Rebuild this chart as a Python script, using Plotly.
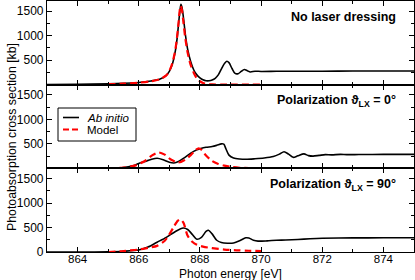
import plotly.graph_objects as go
from plotly.subplots import make_subplots

# ---- Data ----
top_ab_x = [863.0, 864.0, 865.0, 865.5, 866.0, 866.4, 866.7, 866.9, 867.0, 867.1, 867.2, 867.25, 867.3, 867.35, 867.38,
            867.42, 867.47, 867.53, 867.6, 867.7, 867.8, 867.9, 868.0, 868.1, 868.2, 868.3, 868.4, 868.5, 868.6, 868.7,
            868.8, 868.88, 868.95, 869.05, 869.15, 869.25, 869.35, 869.45, 869.55, 869.65, 869.8, 870.0, 870.5, 871.0,
            872.0, 873.0, 874.0, 875.0]
top_ab_y = [3, 8, 18, 28, 45, 75, 115, 190, 270, 420, 700, 920, 1230, 1530, 1640,
            1560, 1320, 1000, 720, 470, 300, 200, 140, 100, 80, 80, 95, 130, 200, 320,
            430, 480, 450, 330, 230, 225, 270, 310, 285, 260, 275, 270, 273, 275,
            275, 278, 278, 280]

top_md_x = [865.0, 865.5, 866.0, 866.4, 866.7, 866.9, 867.0, 867.1, 867.2, 867.25, 867.3, 867.34, 867.37, 867.41,
            867.46, 867.52, 867.6, 867.7, 867.8, 867.9, 868.0, 868.1, 868.2, 868.4, 868.7, 869.0, 870.0]
top_md_y = [10, 20, 40, 70, 115, 190, 280, 440, 730, 960, 1260, 1520, 1610, 1530,
            1280, 960, 650, 400, 240, 130, 70, 35, 15, 5, 2, 0, 0]

mid_ab_x = [863.0, 865.0, 865.5, 865.8, 866.0, 866.2, 866.4, 866.6, 866.8, 867.0, 867.15, 867.3, 867.5, 867.7, 867.9,
            868.0, 868.2, 868.4, 868.55, 868.7, 868.78, 868.85, 868.95, 869.1, 869.3, 869.5, 869.8, 870.1, 870.4,
            870.6, 870.75, 870.9, 871.05, 871.2, 871.4, 871.55, 871.7, 871.9, 872.1, 872.3, 872.6, 872.8, 873.2,
            874.0, 875.0]
mid_ab_y = [0, 5, 15, 50, 100, 140, 180, 205, 175, 125, 110, 140, 220, 310, 380,
            400, 430, 445, 470, 500, 495, 400, 270, 210, 190, 185, 195, 210, 240,
            290, 340, 290, 225, 255, 295, 260, 250, 265, 280, 275, 285, 280, 282,
            285, 285]

mid_md_x = [865.0, 865.5, 865.9, 866.2, 866.45, 866.65, 866.85, 867.05, 867.3, 867.5, 867.7, 867.85, 867.96, 868.05,
            868.2, 868.4, 868.6, 868.8, 869.0, 869.3, 869.6, 870.0]
mid_md_y = [0, 15, 60, 150, 270, 325, 280, 180, 120, 170, 270, 370, 410, 380,
            260, 150, 90, 55, 30, 12, 5, 0]

bot_ab_x = [863.0, 865.0, 865.5, 866.0, 866.3, 866.6, 866.9, 867.2, 867.45, 867.6, 867.75, 867.9, 868.05, 868.2,
            868.28, 868.4, 868.55, 868.7, 868.9, 869.1, 869.3, 869.5, 869.6, 869.75, 869.9, 870.2, 870.5, 870.8,
            871.2, 871.6, 872.0, 873.0, 874.0, 875.0]
bot_ab_y = [0, 5, 15, 40, 100, 200, 300, 420, 490, 460, 360, 260, 300, 420,
            445, 370, 240, 195, 180, 185, 230, 290, 285, 240, 222, 228, 240, 245,
            255, 270, 280, 288, 290, 292]

bot_md_x = [865.0, 865.5, 866.0, 866.3, 866.6, 866.85, 867.0, 867.15, 867.28, 867.36, 867.46, 867.6, 867.75, 867.9,
            868.1, 868.4, 868.8, 869.2, 869.6, 870.0]
bot_md_y = [0, 20, 50, 85, 125, 230, 360, 520, 640, 665, 600, 330, 210, 150,
            110, 80, 50, 35, 25, 18]

panel_titles = ["No laser dressing",
                "Polarization ϑ<sub>LX</sub> = 0°",
                "Polarization ϑ<sub>LX</sub> = 90°"]
legend_labels = ["<i>Ab initio</i>", "Model"]
x_ticks = [864, 866, 868, 870, 872, 874]
y_ticks_upper = [500, 1000, 1500]
y_ticks_bottom = [0, 500, 1000, 1500]

FONT = "Liberation Sans, Arial, Helvetica, sans-serif"
W, H = 415, 280
ML, MR, MT, MB = 47, 1, 1, 28
PW, PH = W - ML - MR, H - MT - MB


def px2paper(px, py):
    return (px - ML) / PW, (H - MB - py) / PH


fig = make_subplots(rows=3, cols=1, shared_xaxes=True, vertical_spacing=0)

panels = [(top_ab_x, top_ab_y, top_md_x, top_md_y),
          (mid_ab_x, mid_ab_y, mid_md_x, mid_md_y),
          (bot_ab_x, bot_ab_y, bot_md_x, bot_md_y)]

BLACK_LINE = dict(color="black", width=1.6, shape="spline", smoothing=0.8)
RED_LINE = dict(color="#ff0000", width=2.2, dash="7px,4px", shape="spline", smoothing=0.8)

for i, (ax_, ay_, mx_, my_) in enumerate(panels):
    row = i + 1
    fig.add_trace(go.Scatter(x=ax_, y=ay_, mode="lines", line=BLACK_LINE,
                             name=legend_labels[0], showlegend=False), row=row, col=1)
    fig.add_trace(go.Scatter(x=mx_, y=my_, mode="lines", line=RED_LINE,
                             name=legend_labels[1], showlegend=False), row=row, col=1)

axis_common = dict(showline=True, linecolor="black", linewidth=1.2, mirror="ticks", ticks="inside",
                   ticklen=5, tickwidth=1, tickcolor="black", showgrid=False, zeroline=False, automargin=False)

for row in (1, 2, 3):
    fig.update_xaxes(range=[863, 875], tickvals=x_ticks,
                     minor=dict(ticks="inside", ticklen=3, dtick=1, tick0=863, tickcolor="black"),
                     showticklabels=(row == 3), tickfont=dict(family=FONT, size=11.5, color="black"),
                     ticklabelstandoff=-4,
                     row=row, col=1, **axis_common)
    fig.update_yaxes(range=[0, 1710], tickvals=(y_ticks_bottom if row == 3 else y_ticks_upper),
                     minor=dict(ticks="inside", ticklen=3, dtick=250, tick0=0, tickcolor="black"),
                     tickfont=dict(family=FONT, size=12, color="black"),
                     row=row, col=1, **axis_common)

annos = []
shapes = []
title_py = [17, 100.5, 184.5]
for i, t in enumerate(panel_titles):
    xp, yp = px2paper(398, title_py[i])
    annos.append(dict(text="<b>" + t + "</b>", xref="paper", yref="paper", x=xp, y=yp,
                      xanchor="right", yanchor="middle", showarrow=False,
                      font=dict(family=FONT, size=12.5, color="black")))
xp, yp = px2paper(12, 137)
annos.append(dict(text="Photoabsorption cross section [kb]", xref="paper", yref="paper", x=xp, y=yp,
                  textangle=-90, showarrow=False, xanchor="center", yanchor="middle",
                  font=dict(family=FONT, size=12.3, color="black")))
xp, yp = px2paper(230, 273.5)
annos.append(dict(text="Photon energy [eV]", xref="paper", yref="paper", x=xp, y=yp,
                  showarrow=False, xanchor="center", yanchor="middle", borderpad=0,
                  font=dict(family=FONT, size=12, color="black")))

# manual legend box (middle panel)
x0, y0 = px2paper(58, 108)
x1, y1 = px2paper(136, 141)
shapes.append(dict(type="rect", xref="paper", yref="paper", x0=x0, y0=y1, x1=x1, y1=y0,
                   line=dict(color="black", width=1), fillcolor="white", layer="above"))
for k, (ly, style) in enumerate([(117.5, BLACK_LINE), (129.5, RED_LINE)]):
    lx0, lyp = px2paper(63, ly)
    lx1, _ = px2paper(79, ly)
    shapes.append(dict(type="line", xref="paper", yref="paper", x0=lx0, x1=lx1, y0=lyp, y1=lyp,
                       line=dict(color=style["color"], width=style["width"],
                                 dash=("solid" if k == 0 else "6px,3px")), layer="above"))
    tx, _ = px2paper(85, ly)
    annos.append(dict(text=legend_labels[k], xref="paper", yref="paper", x=tx, y=lyp,
                      xanchor="left", yanchor="middle", showarrow=False,
                      font=dict(family=FONT, size=11.5, color="black")))

fig.update_layout(
    width=W, height=H,
    margin=dict(l=ML, r=MR, t=MT, b=MB),
    paper_bgcolor="white", plot_bgcolor="white",
    annotations=annos, shapes=shapes,
    showlegend=False,
    font=dict(family=FONT, size=12, color="black"),
)

fig.write_html("out.html", config={"displayModeBar": False},
               post_script="document.body.style.margin='0';document.body.style.overflow='hidden';")
